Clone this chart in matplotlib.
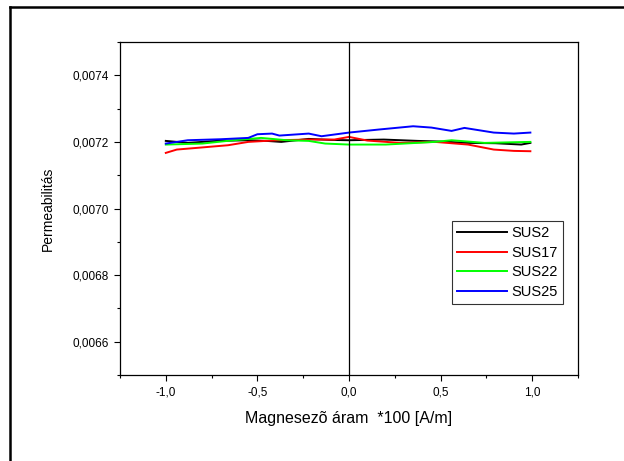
import matplotlib
matplotlib.use("Agg")
import matplotlib.pyplot as plt
from matplotlib.ticker import MultipleLocator, FuncFormatter
from matplotlib.lines import Line2D

plt.rcParams['font.family'] = ['Liberation Sans', 'DejaVu Sans']

# values
sus2_x = [-1.0, -0.88, -0.72, -0.55, -0.45, -0.37, -0.22, -0.1, 0.0, 0.19, 0.375, 0.5, 0.65, 0.8, 0.94, 0.99]
sus2_y = [0.007203, 0.007197, 0.007203, 0.007205, 0.007203, 0.0072, 0.007209, 0.007206, 0.007205, 0.007207,
          0.007203, 0.007201, 0.007197, 0.007196, 0.007192, 0.007197]

sus17_x = [-1.0, -0.94, -0.81, -0.66, -0.55, -0.39, -0.22, -0.08, 0.0, 0.10, 0.28, 0.47, 0.65, 0.79, 0.9, 0.99]
sus17_y = [0.007167, 0.007177, 0.007183, 0.00719, 0.0072, 0.007205, 0.007207, 0.007207, 0.007215, 0.007204,
           0.007197, 0.0072, 0.007192, 0.007177, 0.007173, 0.007172]

sus22_x = [-1.0, -0.8, -0.63, -0.48, -0.34, -0.22, -0.13, 0.0, 0.2, 0.47, 0.56, 0.74, 0.9, 0.99]
sus22_y = [0.007192, 0.007195, 0.007205, 0.007212, 0.007205, 0.007203, 0.007195, 0.007192, 0.007192,
           0.0072, 0.007205, 0.007197, 0.007199, 0.0072]

sus25_x = [-1.0, -0.88, -0.7, -0.55, -0.5, -0.42, -0.38, -0.22, -0.15, 0.0, 0.16, 0.35, 0.45, 0.56, 0.63,
           0.79, 0.9, 0.99]
sus25_y = [0.007195, 0.007205, 0.007208, 0.007212, 0.007223, 0.007225, 0.007219, 0.007225, 0.007217,
           0.007228, 0.007237, 0.007247, 0.007243, 0.007233, 0.007242, 0.007228, 0.007225, 0.007228]

series = [("SUS2", sus2_x, sus2_y, "black"),
          ("SUS17", sus17_x, sus17_y, "#ff0000"),
          ("SUS22", sus22_x, sus22_y, "#00ff00"),
          ("SUS25", sus25_x, sus25_y, "#0000ff")]

W, H = 624, 461
fig = plt.figure(figsize=(W / 100, H / 100), dpi=100)

# outer frame (top and left edges only visible)
fig.add_artist(Line2D([9.5 / W, 9.5 / W], [0, 1 - 7 / H], color="black", lw=1.8, transform=fig.transFigure))
fig.add_artist(Line2D([9.5 / W, 1], [1 - 7 / H, 1 - 7 / H], color="black", lw=1.8, transform=fig.transFigure))

ax = fig.add_axes([120 / W, 1 - 375 / H, (578 - 120) / W, (375 - 42) / H])

for name, xs, ys, col in series:
    ax.plot(xs, ys, color=col, lw=1.4, label=name)

ax.axvline(0, color="black", lw=0.9)

ax.set_xlim(-1.25, 1.25)
ax.set_ylim(0.0065, 0.0075)
ax.xaxis.set_major_locator(MultipleLocator(0.5))
ax.xaxis.set_minor_locator(MultipleLocator(0.25))
ax.yaxis.set_major_locator(MultipleLocator(0.0002))
ax.yaxis.set_minor_locator(MultipleLocator(0.0001))
ax.xaxis.set_major_formatter(FuncFormatter(lambda v, p: f"{v:.1f}".replace(".", ",")))
ax.yaxis.set_major_formatter(FuncFormatter(lambda v, p: f"{v:.4f}".replace(".", ",")))
ax.tick_params(which="both", direction="out", labelsize=8.5, width=0.8)
ax.tick_params(which="major", length=4, pad=4)
ax.tick_params(which="minor", length=2.5)
for s in ax.spines.values():
    s.set_linewidth(0.9)

ax.set_xlabel("Magnesezõ áram  *100 [A/m]", fontsize=11.5, labelpad=9)
ax.set_ylabel("Permeabilitás", fontsize=10, labelpad=13)

leg = ax.legend(loc="upper left", bbox_to_anchor=((452 - 120) / 458, (375 - 221) / 333),
                fontsize=10.5, frameon=True, fancybox=False, handlelength=3.4,
                handletextpad=0.35, borderpad=0.35, labelspacing=0.38, borderaxespad=0.0)
leg.get_frame().set_edgecolor("black")
leg.get_frame().set_linewidth(0.8)

fig.savefig("out.png", dpi=100)
